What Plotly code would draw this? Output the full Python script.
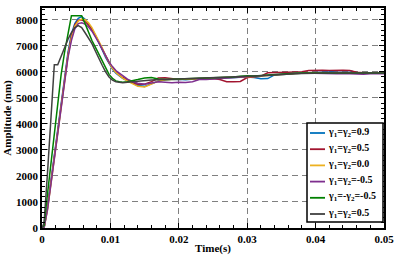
import plotly.graph_objects as go

t = [0, 0.0003, 0.0008, 0.0013, 0.0018, 0.0023, 0.0028, 0.0033, 0.0038, 0.0043,
     0.0048, 0.0053, 0.0058, 0.0063, 0.0068, 0.0073, 0.0078, 0.0083, 0.0088, 0.0093,
     0.0098, 0.0103, 0.0108, 0.0113, 0.0118, 0.0125, 0.0133,
     0.014, 0.015, 0.016, 0.017, 0.018, 0.019, 0.02, 0.021, 0.022, 0.023,
     0.024, 0.025, 0.026, 0.027, 0.028, 0.029, 0.03, 0.031, 0.032, 0.033,
     0.034, 0.035, 0.036, 0.037, 0.038, 0.039, 0.04, 0.041, 0.042, 0.043,
     0.044, 0.045, 0.046, 0.047, 0.048, 0.049, 0.05]

blue = [0, 0, 800, 1800, 2800, 3800, 4820, 5840, 6750, 7450,
        7850, 8050, 8120, 8020, 7850, 7650, 7400, 7150, 6850, 6550,
        6300, 6100, 5950, 5850, 5750, 5650, 5550,
        5470, 5440, 5540, 5640, 5690, 5700, 5710, 5690, 5720, 5740,
        5720, 5760, 5750, 5770, 5780, 5790, 5800, 5780, 5730, 5740,
        5880, 5900, 5920, 5940, 5950, 5960, 5970, 5980, 6000, 6040,
        6050, 6040, 5960, 5950, 5940, 5950, 5950]

red = [0, 0, 750, 1750, 2750, 3750, 4750, 5750, 6650, 7350,
       7800, 7980, 8000, 7930, 7800, 7620, 7400, 7150, 6880, 6600,
       6350, 6150, 6000, 5880, 5780, 5680, 5580,
       5520, 5520, 5620, 5760, 5770, 5740, 5700, 5720, 5730, 5740,
       5730, 5740, 5700, 5620, 5620, 5630, 5780, 5800, 5830, 5960,
       5960, 5960, 5980, 5990, 6000, 6050, 6060, 6060, 6050, 6060,
       6060, 6050, 5980, 5960, 5950, 5950, 5950]

yellow = [0, 0, 700, 1700, 2700, 3700, 4700, 5700, 6600, 7300,
          7750, 7950, 8030, 8000, 7880, 7700, 7450, 7200, 6920, 6620,
          6350, 6130, 5970, 5860, 5760, 5640, 5520,
          5440, 5420, 5520, 5640, 5690, 5700, 5700, 5710, 5720, 5720,
          5730, 5750, 5760, 5770, 5780, 5790, 5800, 5820, 5840, 5850,
          5880, 5900, 5920, 5930, 5950, 5960, 5960, 5950, 5960, 5950,
          5960, 5950, 5940, 5950, 5940, 5950, 5940]

purple = [0, 0, 700, 1650, 2650, 3650, 4650, 5650, 6550, 7200,
          7650, 7850, 7880, 7830, 7720, 7560, 7350, 7120, 6870, 6620,
          6380, 6200, 6050, 5950, 5850, 5720, 5620,
          5560, 5520, 5580, 5620, 5600, 5580, 5600, 5590, 5620, 5700,
          5700, 5720, 5740, 5760, 5780, 5790, 5800, 5820, 5850, 5870,
          5890, 5900, 5920, 5940, 5950, 5940, 5950, 5940, 5930, 5920,
          5930, 5920, 5920, 5910, 5920, 5910, 5920]

green = [0, 100, 1300, 2500, 3700, 4800, 5900, 6750, 7500, 8150,
         8150, 8150, 8150, 7850, 7500, 7200, 6950, 6700, 6400, 6150,
         5900, 5750, 5650, 5620, 5600, 5620, 5650,
         5700, 5760, 5780, 5720, 5700, 5710, 5720, 5730, 5720, 5740,
         5750, 5760, 5770, 5780, 5800, 5830, 5850, 5840, 5860, 5880,
         5900, 5920, 5930, 5940, 5950, 5950, 5960, 5950, 5960, 5950,
         5950, 5960, 5950, 5950, 5950, 5950, 5950]

black = [0, 200, 2100, 4000, 6270, 6270, 6600, 6950, 7250, 7500,
         7700, 7770, 7700, 7500, 7300, 7080, 6800, 6500, 6250, 6000,
         5800, 5680, 5620, 5600, 5580, 5600, 5620,
         5650, 5660, 5680, 5690, 5700, 5700, 5710, 5720, 5730, 5740,
         5750, 5760, 5770, 5780, 5790, 5800, 5810, 5820, 5840, 5860,
         5880, 5900, 5910, 5920, 5930, 5940, 5950, 5950, 5950, 5950,
         5950, 5950, 5950, 5950, 5950, 5950, 5950]

names = ["γ<sub>1</sub>=γ<sub>2</sub>=0.9", "γ<sub>1</sub>=γ<sub>2</sub>=0.5",
         "γ<sub>1</sub>=γ<sub>2</sub>=0.0", "γ<sub>1</sub>=γ<sub>2</sub>=-0.5",
         "γ<sub>1</sub>=-γ<sub>2</sub>=-0.5", "γ<sub>1</sub>=γ<sub>2</sub>=0.5"]
series = [blue, red, yellow, purple, green, black]
colors = ["#0072BD", "#A2142F", "#EDB120", "#7E2F8E", "#008000", "#404040"]

x_tickvals = [0, 0.01, 0.02, 0.03, 0.04, 0.05]
x_ticktext = ["0", "0.01", "0.02", "0.03", "0.04", "0.05"]
y_tickvals = [0, 1000, 2000, 3000, 4000, 5000, 6000, 7000, 8000]

fig = go.Figure()
for nm, ys, c in zip(names, series, colors):
    fig.add_trace(go.Scatter(x=t, y=ys, mode="lines", name=nm, showlegend=False,
                             line=dict(color=c, width=1.5)))

font_family = "Liberation Serif"
axis_common = dict(
    showline=True, linecolor="black", linewidth=1.5, mirror="allticks",
    ticks="inside", ticklen=5, tickwidth=1, tickcolor="black",
    showgrid=True, gridcolor="#808080", griddash="6px,4px", gridwidth=1,
    zeroline=False, automargin=False,
    tickfont=dict(family=font_family, size=11, color="black", weight="bold"),
)

fig.update_xaxes(range=[0, 0.05], tickvals=x_tickvals, ticktext=x_ticktext,
                 minor=dict(dtick=0.002, ticks="inside", ticklen=3, tickcolor="black", showgrid=False),
                 title=dict(text="Time(s)", standoff=0,
                            font=dict(family=font_family, size=11, color="black", weight="bold")),
                 **axis_common)
fig.update_yaxes(range=[0, 8450], tickvals=y_tickvals,
                 minor=dict(dtick=200, ticks="inside", ticklen=3, tickcolor="black", showgrid=False),
                 title=dict(text="Amplitude (nm)", standoff=2,
                            font=dict(family=font_family, size=11, color="black", weight="bold")),
                 **axis_common)

# manual legend (paper coordinates)
px0, px1, py0, py1 = 42.0, 384.0, 228.0, 8.0
def xp(px):
    return (px - px0) / (px1 - px0)
def yp(py):
    return (py0 - py) / (py0 - py1)

shapes = [dict(type="rect", xref="paper", yref="paper",
               x0=xp(307), x1=xp(383), y0=yp(222), y1=yp(123),
               line=dict(color="black", width=1.5), fillcolor="white", layer="above")]
annotations = []
row_y = 133.0
row_gap = 16.2
for i, (nm, c) in enumerate(zip(names, colors)):
    yy = row_y + i * row_gap
    shapes.append(dict(type="line", xref="paper", yref="paper",
                       x0=xp(310), x1=xp(325), y0=yp(yy), y1=yp(yy),
                       line=dict(color=c, width=1.8), layer="above"))
    annotations.append(dict(xref="paper", yref="paper", x=xp(326), y=yp(yy - 1),
                            xanchor="left", yanchor="middle", text=nm, showarrow=False,
                            font=dict(family=font_family, size=10, color="black", weight="bold")))

fig.update_layout(
    width=395, height=260,
    margin=dict(l=42, r=11, t=8, b=32, autoexpand=False),
    plot_bgcolor="white", paper_bgcolor="white",
    shapes=shapes, annotations=annotations,
)

fig.write_html("out.html", config={"displayModeBar": False},
               post_script="document.body.style.margin='0px';document.body.style.overflow='hidden';")
